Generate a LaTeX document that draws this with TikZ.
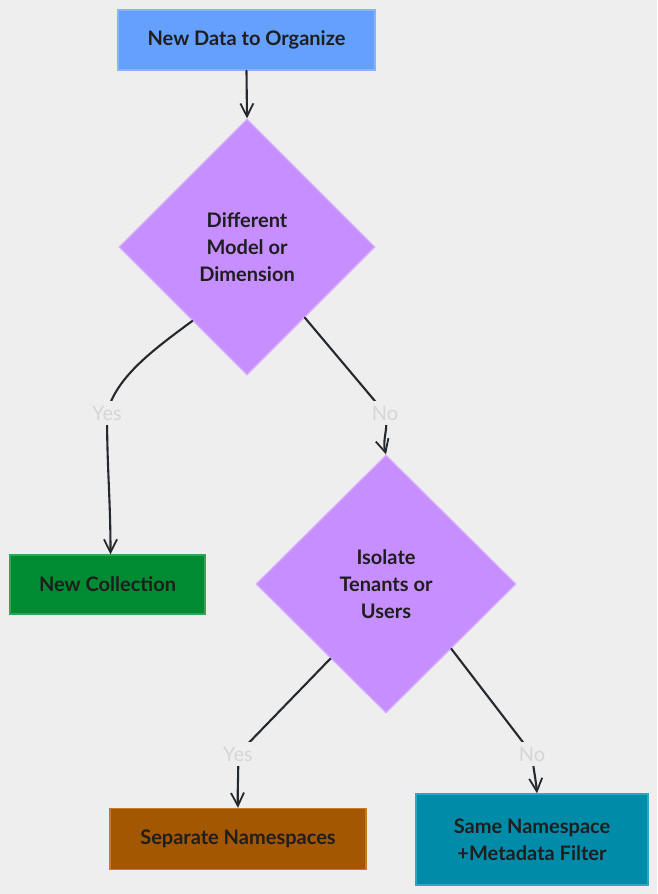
\documentclass[tikz,border=0pt]{standalone}
\usepackage{fontspec}
\setmainfont{Lato}
\usetikzlibrary{shapes.geometric,arrows.meta,calc}
\definecolor{bg}{HTML}{EEEEEE}
\definecolor{ink}{HTML}{1E1E1E}
\definecolor{edgeink}{HTML}{25282C}
\definecolor{lblgray}{HTML}{D6D6D6}
\definecolor{bluefill}{HTML}{66A0FF}
\definecolor{blueline}{HTML}{85B3FF}
\definecolor{purplefill}{HTML}{C78EFF}
\definecolor{purpleline}{HTML}{D8AEFF}
\definecolor{greenfill}{HTML}{008A32}
\definecolor{greenline}{HTML}{30A457}
\definecolor{orangefill}{HTML}{A35700}
\definecolor{orangeline}{HTML}{C97A20}
\definecolor{tealfill}{HTML}{008CA8}
\definecolor{tealline}{HTML}{2AA8C2}
\tikzset{
  boxnode/.style={draw, line width=1.4pt, rectangle, inner sep=0pt, align=center,
    text=ink, font=\fontsize{20}{27}\selectfont\bfseries},
  decnode/.style={draw=purpleline, fill=purplefill, line width=1.2pt, diamond, inner sep=0pt,
    align=center, text=ink, font=\fontsize{20}{27}\selectfont\bfseries,
    minimum width=256pt, minimum height=256pt},
  edge/.style={draw=edgeink, line width=2.1pt, line cap=round},
  arr/.style={edge, -{Straight Barb[length=13pt,width=13pt,line width=1.8pt]}},
  lbl/.style={fill=bg, inner xsep=2pt, inner ysep=5pt, text=lblgray, font=\fontsize{20}{22}\selectfont}
}
\begin{document}
\begin{tikzpicture}[x=1pt,y=-1pt]
\fill[bg] (0,0) rectangle (657,894);
\useasboundingbox (0,0) rectangle (657,894);

\node[boxnode, draw=blueline, fill=bluefill, minimum width=257pt, minimum height=60pt] (start) at (246.5,40) {New Data to Organize};
\node[decnode] (d1) at (247,247) {Different\\Model or\\Dimension};
\node[boxnode, draw=greenline, fill=greenfill, minimum width=195pt, minimum height=59pt] (coll) at (107.5,584.5) {New Collection};
\node[decnode, minimum width=260pt, minimum height=258pt] (d2) at (386,584) {Isolate\\Tenants or\\Users};
\node[boxnode, draw=orangeline, fill=orangefill, minimum width=256pt, minimum height=61pt] (sep) at (238,839) {Separate Namespaces};
\node[boxnode, draw=tealline, fill=tealfill, minimum width=232pt, minimum height=91pt] (same) at (532,839.5) {Same Namespace\\+Metadata Filter};

\coordinate (y1) at (107,413);
\coordinate (n1) at (385,413);
\coordinate (y2) at (238,754);
\coordinate (n2) at (532,754);

\draw[arr] (start.south) -- (d1.north);
\draw[arr] ($(d1.south west)!0.15!(d1.south)$) .. controls (150,352) and (116,378) .. (y1) to[out=-90,in=90] ([xshift=3pt]coll.north);
\draw[arr] ($(d1.south east)!0.1!(d1.south)$) -- (n1) to[out=-75,in=105] (d2.north);
\draw[arr] ($(d2.south west)!0.15!(d2.south)$) -- (y2) to[out=-88,in=92] (sep.north);
\draw[arr] ($(d2.south east)!0.0!(d2.south)$) -- (n2) to[out=-85,in=95] ([xshift=5pt]same.north);

\node[lbl] at (y1) {Yes};
\node[lbl] at (n1) {No};
\node[lbl] at (y2) {Yes};
\node[lbl] at (n2) {No};
\end{tikzpicture}
\end{document}
